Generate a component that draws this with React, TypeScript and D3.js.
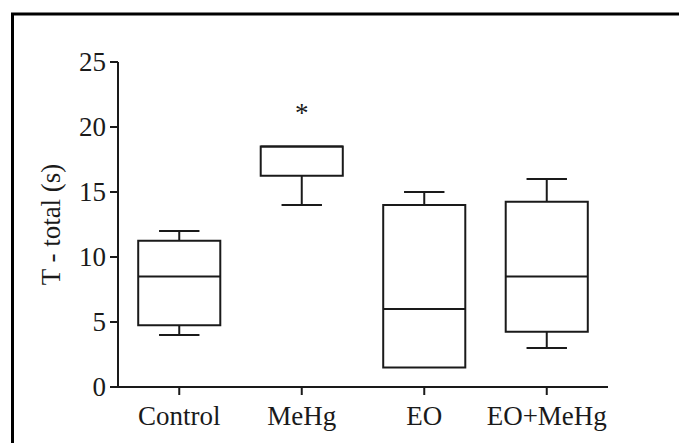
import React from "react";
import * as d3 from "d3";

// Box-plot summaries per group (seconds)
const groups = ["Control", "MeHg", "EO", "EO+MeHg"];
const mins = [4, 14, 1.5, 3];
const q1s = [4.75, 16.25, 1.5, 4.25];
const medians = [8.5, 18.5, 6, 8.5];
const q3s = [11.25, 18.5, 14, 14.25];
const maxs = [12, 18.5, 15, 16];
const yTicks = [0, 5, 10, 15, 20, 25];
const significant = [false, true, false, false];

const W = 679;
const H = 443;
const FONT = "'Liberation Serif', 'Times New Roman', serif";
const INK = "#1a1a1a";

export default function App() {
  const x = d3.scaleBand<string>().domain(groups).range([118, 608]).padding(0);
  const y = d3.scaleLinear().domain([0, 25]).range([387, 62]);
  const bw = x.bandwidth();
  const boxW = bw * 0.67;
  const capW = bw * 0.33;

  return (
    <svg
      width={W}
      height={H}
      style={{ position: "absolute", left: 0, top: 0, background: "#fff" }}
      fontFamily={FONT}
    >
      {/* outer frame */}
      <rect x={12.5} y={14} width={W + 20} height={H + 20} fill="none" stroke="#000" strokeWidth={3} />

      {/* y axis */}
      <line x1={118} x2={118} y1={y(25)} y2={y(0)} stroke={INK} strokeWidth={2} />
      {yTicks.map((t) => (
        <g key={t}>
          <line x1={110} x2={118} y1={y(t)} y2={y(t)} stroke={INK} strokeWidth={2} />
          <text x={106} y={y(t)} dy="0.35em" textAnchor="end" fontSize={27} fill={INK}>
            {t}
          </text>
        </g>
      ))}
      <text
        transform={`translate(60, ${(y(0) + y(25)) / 2}) rotate(-90)`}
        textAnchor="middle"
        fontSize={27}
        fill={INK}
      >
        T - total (s)
      </text>

      {/* x axis */}
      <line x1={117} x2={608} y1={y(0)} y2={y(0)} stroke={INK} strokeWidth={2} />
      {groups.map((g) => {
        const cx = (x(g) as number) + bw / 2;
        return (
          <g key={g}>
            <line x1={cx} x2={cx} y1={y(0)} y2={y(0) + 8} stroke={INK} strokeWidth={2} />
            <text x={cx} y={425} textAnchor="middle" fontSize={27} fill={INK}>
              {g}
            </text>
          </g>
        );
      })}

      {/* boxes */}
      {groups.map((g, i) => {
        const cx = (x(g) as number) + bw / 2;
        const x0 = cx - boxW / 2;
        return (
          <g key={g} stroke={INK} strokeWidth={2} fill="none">
            {maxs[i] > q3s[i] && (
              <>
                <line x1={cx} x2={cx} y1={y(maxs[i])} y2={y(q3s[i])} />
                <line x1={cx - capW / 2} x2={cx + capW / 2} y1={y(maxs[i])} y2={y(maxs[i])} />
              </>
            )}
            {mins[i] < q1s[i] && (
              <>
                <line x1={cx} x2={cx} y1={y(q1s[i])} y2={y(mins[i])} />
                <line x1={cx - capW / 2} x2={cx + capW / 2} y1={y(mins[i])} y2={y(mins[i])} />
              </>
            )}
            <rect x={x0} y={y(q3s[i])} width={boxW} height={y(q1s[i]) - y(q3s[i])} fill="#fff" />
            <line x1={x0} x2={x0 + boxW} y1={y(medians[i])} y2={y(medians[i])} />
            {significant[i] && (
              <text x={cx} y={122} textAnchor="middle" fontSize={27} fill={INK} stroke="none">
                *
              </text>
            )}
          </g>
        );
      })}
    </svg>
  );
}
